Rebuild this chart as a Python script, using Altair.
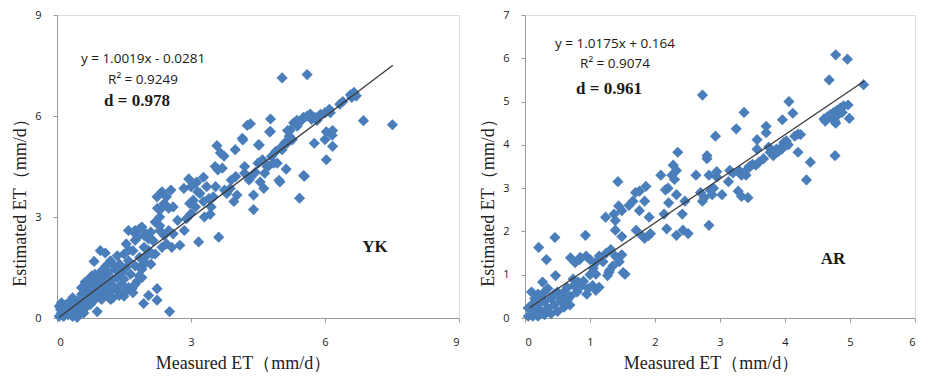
import altair as alt
import pandas as pd

# ---------------- data ----------------
yk_points = [
    (0.05, 0.05), (0.1, 0.15), (0.15, 0.05), (0.2, 0.25), (0.05, 0.35), (0.1, 0.45), (0.25, 0.1),
    (0.3, 0.3), (0.35, 0.05), (0.4, 0.2), (0.45, 0.02), (0.5, 0.1), (0.2, 0.4), (0.3, 0.5),
    (0.15, 0.3), (0.4, 0.4), (0.55, 0.3), (0.6, 0.15), (0.5, 0.55), (0.35, 0.6), (0.08, 0.25),
    (0.45, 0.35), (0.6, 0.45),
    (0.55, 0.7), (0.6, 0.5), (0.65, 0.8), (0.7, 0.6), (0.7, 0.95), (0.75, 0.4), (0.8, 0.75),
    (0.8, 1.05), (0.85, 0.55), (0.85, 1.3), (0.9, 0.9), (0.9, 0.65), (0.95, 1.1), (0.95, 0.75),
    (1.0, 0.55), (1.0, 1.4), (0.75, 1.2), (0.65, 1.0), (0.83, 1.68), (0.97, 2.0), (1.08, 1.93),
    (0.9, 0.19), (0.6, 0.75), (0.7, 0.8), (0.55, 0.9), (0.9, 1.2), (1.0, 1.0), (0.63, 1.07),
    (0.78, 1.25), (0.63, 0.29),
    (1.05, 0.9), (1.05, 1.2), (1.1, 0.7), (1.1, 1.55), (1.15, 1.0), (1.15, 1.35), (1.2, 0.8),
    (1.2, 1.7), (1.25, 1.15), (1.25, 0.6), (1.3, 1.45), (1.3, 0.9), (1.35, 1.85), (1.35, 1.2),
    (1.4, 0.75), (1.4, 1.6), (1.45, 1.0), (1.45, 1.35), (1.5, 1.9), (1.5, 0.65), (1.5, 1.15),
    (1.3, 1.53), (1.0, 0.58), (1.2, 0.55), (1.39, 0.67),
    (1.55, 1.5), (1.55, 2.2), (1.6, 0.9), (1.6, 1.7), (1.6, 2.6), (1.65, 1.3), (1.7, 2.0),
    (1.7, 0.75), (1.75, 1.55), (1.75, 2.6), (1.8, 1.1), (1.8, 2.4), (1.85, 1.8), (1.9, 1.45),
    (1.9, 2.7), (1.95, 2.1), (1.95, 1.6), (2.0, 2.5), (2.0, 1.85), (1.61, 2.02), (1.75, 2.31),
    (1.55, 0.8), (1.68, 0.87), (1.84, 1.25), (1.98, 1.64), (2.13, 1.9), (1.75, 1.0), (1.9, 1.2),
    (1.85, 1.5),
    (1.94, 0.43), (2.05, 0.67), (2.24, 0.87), (2.24, 0.53), (2.52, 0.19),
    (2.05, 2.0), (2.1, 1.6), (2.15, 2.3), (2.2, 1.9), (2.3, 2.6), (2.35, 2.1), (2.4, 2.45),
    (2.45, 2.2), (2.5, 2.6), (2.6, 2.5), (2.7, 2.9), (2.75, 2.16), (2.85, 2.6), (2.9, 2.95),
    (2.57, 2.1), (2.3, 2.74), (2.25, 3.26), (2.5, 3.26), (2.2, 2.85), (2.3, 3.0), (2.4, 3.4),
    (2.45, 3.6), (2.35, 3.75), (2.55, 3.8), (2.6, 3.3), (2.24, 3.6), (2.31, 3.22), (2.84, 3.85),
    (2.95, 4.13), (1.72, 2.55), (1.85, 2.65), (1.95, 2.45), (2.1, 2.55), (2.05, 2.35),
    (3.0, 3.1), (3.05, 3.5), (3.1, 3.3), (3.13, 4.04), (3.17, 2.26), (3.2, 3.7), (3.28, 4.18),
    (3.28, 3.46), (3.35, 3.9), (3.43, 3.08), (3.45, 3.3), (3.5, 3.6), (3.54, 4.5), (3.58, 5.12),
    (3.6, 4.4), (3.62, 2.4), (3.66, 4.9), (3.7, 4.45), (3.74, 4.81), (3.75, 3.8), (3.8, 3.7),
    (3.88, 3.85), (3.9, 4.1), (3.96, 3.46), (3.99, 5.0), (4.0, 4.2), (3.0, 3.9), (3.1, 4.0),
    (3.15, 3.75), (2.97, 3.4), (3.3, 3.0), (3.4, 3.55), (3.55, 3.9),
    (4.03, 3.65), (4.15, 5.34), (4.16, 5.29), (4.2, 4.3), (4.26, 5.72), (4.33, 5.77), (4.35, 4.2),
    (4.4, 3.65), (4.4, 3.22), (4.44, 4.33), (4.5, 4.6), (4.51, 5.14), (4.53, 5.14), (4.55, 4.04),
    (4.6, 4.7), (4.63, 3.85), (4.7, 4.5), (4.74, 4.52), (4.76, 5.53), (4.78, 5.91), (4.8, 4.8),
    (4.85, 4.6), (4.9, 4.95), (4.93, 4.6), (4.97, 4.09), (4.99, 4.04), (4.2, 4.5), (4.3, 4.1),
    (4.65, 4.3), (4.78, 5.54),
    (5.04, 7.13), (5.0, 5.05), (5.04, 5.0), (5.1, 5.2), (5.15, 5.19), (5.13, 4.42), (5.16, 5.57),
    (5.2, 5.4), (5.22, 5.58), (5.27, 5.3), (5.3, 5.8), (5.37, 5.87), (5.38, 5.7), (5.4, 5.8),
    (5.43, 3.56), (5.5, 5.9), (5.52, 5.96), (5.52, 4.23), (5.54, 4.21), (5.6, 7.23), (5.6, 6.0),
    (5.67, 6.06), (5.7, 5.9), (5.76, 5.19), (5.78, 5.95), (5.82, 5.87), (5.9, 6.05), (6.0, 6.1),
    (6.03, 4.7), (6.03, 5.53), (6.1, 6.2), (6.12, 6.1), (6.16, 5.43), (6.17, 5.1), (6.0, 5.3),
    (6.17, 5.57),
    (6.33, 6.35), (6.4, 6.43), (6.57, 6.63), (6.6, 6.55), (6.65, 6.7), (6.7, 6.6), (6.86, 5.86),
    (7.51, 5.74),
]

ar_points = [
    (0.05, 0.23), (0.1, 0.6), (0.15, 0.45), (0.2, 0.3), (0.25, 0.15), (0.3, 0.38), (0.35, 0.23),
    (0.4, 0.45), (0.45, 0.3), (0.5, 0.15), (0.12, 0.04), (0.2, 0.04), (0.05, 0.04), (0.3, 0.08),
    (0.5, 0.6), (0.35, 0.68), (0.1, 0.3), (0.15, 0.15), (0.25, 0.5), (0.4, 0.1), (0.55, 0.4),
    (0.6, 0.5), (0.2, 0.55), (0.3, 0.6),
    (0.6, 0.6), (0.65, 0.41), (0.69, 0.3), (0.7, 1.39), (0.74, 0.9), (0.77, 1.28), (0.82, 0.83),
    (0.84, 1.35), (0.87, 0.75), (0.93, 1.91), (0.94, 1.43), (0.95, 0.55), (0.97, 0.68), (0.47, 0.98),
    (0.46, 1.86), (0.33, 1.35), (0.21, 1.63), (0.27, 0.83), (0.55, 0.45), (0.6, 0.25), (0.7, 0.5),
    (0.8, 0.6), (0.75, 0.75), (0.9, 0.85), (0.85, 1.4), (1.0, 1.35), (0.65, 0.7), (0.45, 0.55),
    (1.04, 0.75), (1.09, 0.64), (1.14, 0.71), (1.09, 1.01), (1.09, 1.28), (1.14, 1.43), (1.24, 2.33),
    (1.27, 0.98), (1.29, 1.05), (1.32, 1.58), (1.37, 2.4), (1.39, 2.25), (1.39, 2.03), (1.39, 1.43),
    (1.43, 3.15), (1.44, 2.59), (1.49, 2.48), (1.49, 1.88), (1.49, 1.46), (1.51, 1.05), (1.54, 1.01),
    (1.2, 1.3), (1.3, 1.1), (1.45, 1.3), (1.35, 1.2), (1.25, 1.5), (1.0, 1.0), (1.05, 1.15),
    (1.66, 2.7), (1.71, 2.03), (1.76, 2.93), (1.84, 2.7), (1.76, 2.48), (1.84, 1.84), (1.86, 3.04),
    (1.91, 2.33), (1.93, 1.95), (1.6, 2.6), (1.7, 2.9), (1.8, 1.9), (1.9, 1.9),
    (2.09, 3.3), (2.16, 2.96), (2.21, 2.66), (2.14, 2.4), (2.18, 2.06), (2.28, 3.53), (2.33, 3.41),
    (2.26, 3.3), (2.35, 3.83), (2.33, 2.85), (2.46, 2.7), (2.42, 2.4), (2.43, 2.03), (2.33, 1.91),
    (2.51, 1.95), (2.3, 3.2), (2.2, 3.0),
    (2.63, 3.3), (2.73, 5.15), (2.73, 2.7), (2.76, 2.78), (2.8, 3.75), (2.8, 3.68), (2.83, 3.3),
    (2.83, 2.14), (2.88, 2.85), (2.93, 4.2), (2.95, 3.38), (2.95, 3.26), (2.7, 2.9), (2.85, 2.95),
    (2.9, 3.0),
    (3.03, 2.85), (3.13, 3.15), (3.15, 3.41), (3.25, 4.37), (3.28, 2.93), (3.33, 2.81), (3.33, 3.3),
    (3.37, 4.75), (3.4, 3.3), (3.43, 3.45), (3.43, 2.78), (3.2, 3.35), (3.3, 3.4), (3.45, 3.5),
    (3.5, 3.55), (3.55, 3.53), (3.57, 4.12), (3.57, 3.9), (3.6, 3.6), (3.67, 3.68), (3.71, 4.43),
    (3.71, 4.28), (3.77, 3.83), (3.82, 3.75), (3.87, 3.9), (3.9, 3.85), (3.96, 4.58), (3.97, 3.98),
    (3.98, 4.05), (3.75, 3.95), (3.85, 3.8), (3.95, 3.9),
    (4.02, 4.09), (4.06, 5.0), (4.12, 4.73), (4.2, 4.25), (4.2, 3.83), (4.24, 4.24), (4.33, 3.19),
    (4.39, 3.6), (4.05, 4.0), (4.15, 4.2),
    (4.6, 4.6), (4.62, 4.55), (4.68, 5.5), (4.7, 4.7), (4.72, 4.62), (4.75, 4.75), (4.77, 3.75),
    (4.77, 4.54), (4.78, 4.5), (4.78, 6.08), (4.8, 4.8), (4.85, 4.85), (4.88, 4.75), (4.9, 4.9),
    (4.96, 5.98), (4.97, 4.92), (4.99, 4.61), (5.21, 5.39), (4.65, 4.65), (4.82, 4.7),
]

yk_fit = (1.0019, -0.0281)          # slope, intercept shown on the chart
ar_fit = (1.0175, 0.164)
yk_fit_range = [0.05, 7.52]
ar_fit_range = [0.07, 5.22]

yk_ticks = [0, 3, 6, 9]
ar_x_ticks = [0, 1, 2, 3, 4, 5, 6]
ar_y_ticks = [0, 1, 2, 3, 4, 5, 6, 7]

yk_labels = ["y = 1.0019x - 0.0281", "R\u00b2 = 0.9249", "d = 0.978", "YK"]
ar_labels = ["y = 1.0175x + 0.164", "R\u00b2 = 0.9074", "d = 0.961", "AR"]

X_TITLE = "Measured ET\uff08mm/d\uff09"
Y_TITLE = "Estimated ET\uff08mm/d\uff09"

# ---------------- styling ----------------
BLUE = "#4a7ebb"
AXIS_GRAY = "#9a9a9a"
TOP = 15          # page y of the plot top (approx.)
H = 303
SANS = "Open Sans"
SERIF = "Liberation Serif"


def axis(ticks, title, is_x, title_pos):
    kw = dict(
        values=ticks, title=title, grid=False, domainColor=AXIS_GRAY, tickColor=AXIS_GRAY,
        tickSize=4, labelFont=SANS, labelFontSize=11, labelColor="#222222",
        titleFont=SERIF, titleFontSize=18, titleFontWeight="normal", titleColor="#222222",
        format="d",
    )
    if is_x:
        kw.update(labelPadding=14, titlePadding=7, titleX=title_pos)
    else:
        kw.update(labelPadding=12, titlePadding=5, titleY=title_pos)
    return alt.Axis(**kw)


def panel(points, fit, fit_range, xdom, ydom, xticks, yticks, width, labels, pos):
    df = pd.DataFrame(points, columns=["measured", "estimated"])
    xs = alt.Scale(domain=xdom, nice=False, zero=False)
    ys = alt.Scale(domain=ydom, nice=False, zero=False)
    pts = alt.Chart(df).mark_point(
        shape="diamond", filled=True, size=125, color=BLUE, opacity=1
    ).encode(
        x=alt.X("measured:Q", scale=xs, axis=axis(xticks, X_TITLE, True, 186)),
        y=alt.Y("estimated:Q", scale=ys, axis=axis(yticks, Y_TITLE, False, 190 - TOP + 8)),
    )
    line_df = pd.DataFrame({"measured": fit_range,
                            "estimated": [fit[0] * v + fit[1] for v in fit_range]})
    line = alt.Chart(line_df).mark_line(color="#3a3a3a", strokeWidth=1.3).encode(
        x=alt.X("measured:Q", scale=xs), y=alt.Y("estimated:Q", scale=ys)
    )
    texts = []
    fonts = [(SANS, 13.5, "normal"), (SANS, 13.5, "normal"), (SERIF, 17, "bold"), (SERIF, 17, "bold")]
    for lab, (px, py), (f, s, w) in zip(labels, pos, fonts):
        texts.append(
            alt.Chart(pd.DataFrame({"t": [lab]})).mark_text(
                font=f, fontSize=s, fontWeight=w, color="#1a1a1a", align="center", baseline="middle"
            ).encode(x=alt.value(px), y=alt.value(py - TOP), text="t:N")
        )
    return alt.layer(pts, line, *texts).properties(width=width, height=H)


left = panel(yk_points, yk_fit, yk_fit_range, [0, 9], [0, 9], yk_ticks, yk_ticks, 402,
             yk_labels, [(86, 59), (86, 80), (80, 101), (318, 247)])
right = panel(ar_points, ar_fit, ar_fit_range, [0, 6], [0, 7], ar_x_ticks, ar_y_ticks, 390,
              ar_labels, [(90, 44), (90, 64), (84, 89), (308, 259)])

chart = alt.hconcat(left, right, spacing=66, bounds="flush").properties(
    padding={"left": 3, "top": 0, "right": 0, "bottom": 0}
).configure_view(stroke=None).configure(background="white")

chart.save("out.html", embed_options={"renderer": "svg", "actions": False})
